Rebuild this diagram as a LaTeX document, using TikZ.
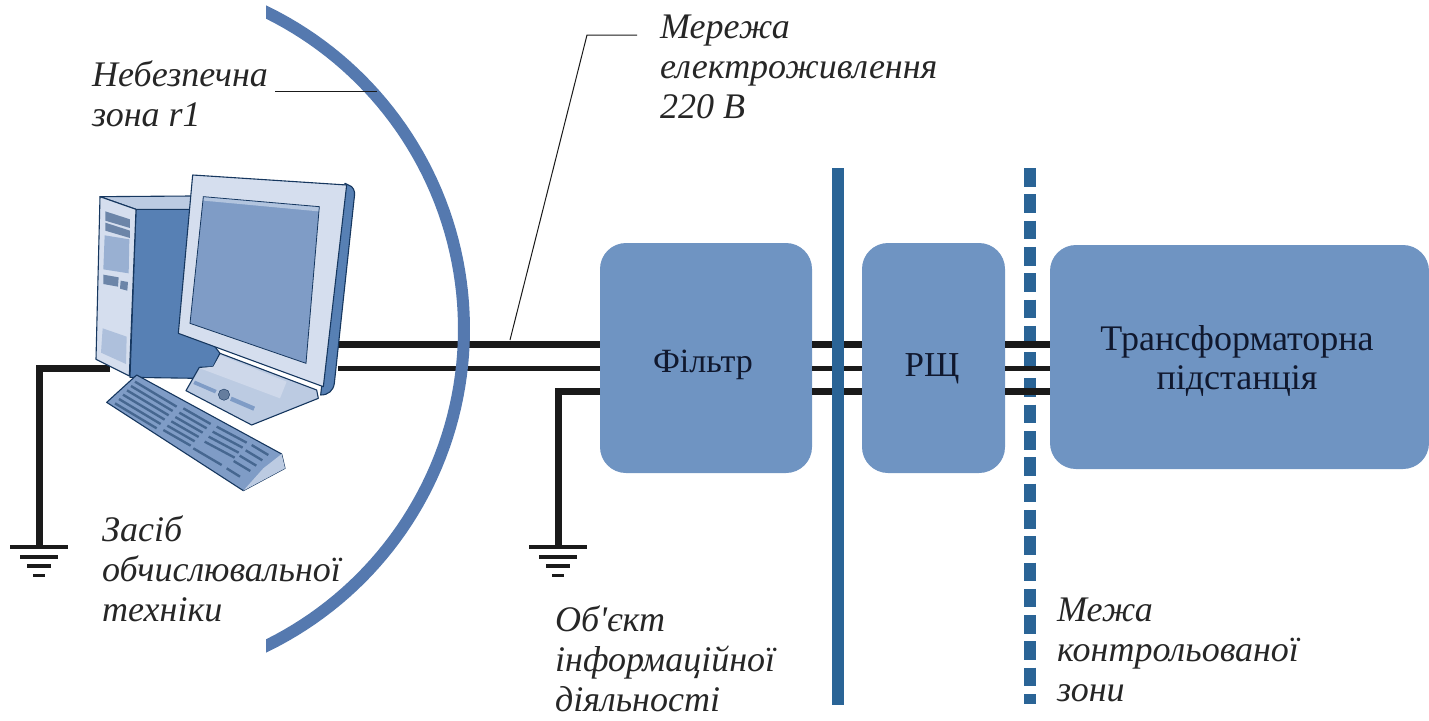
\documentclass[tikz,border=0pt]{standalone}
\usepackage{fontspec}
\setmainfont{Liberation Serif}[Ligatures=TeXOff]
\usetikzlibrary{calc}
\definecolor{boxblue}{HTML}{6F94C2}
\definecolor{arcblue}{HTML}{5579AF}
\definecolor{barblue}{HTML}{2A6496}
\definecolor{wirek}{HTML}{1A1A1A}
\definecolor{lbl}{HTML}{10182E}
\definecolor{pcdark}{HTML}{5780B4}
\definecolor{pcmid}{HTML}{7F9CC6}
\definecolor{pclight}{HTML}{D5DEEE}
\definecolor{pcpale}{HTML}{BCCBE2}
\definecolor{pcline}{HTML}{16375F}
\tikzset{
  blockbox/.style={fill=boxblue,rounded corners=26pt,inner sep=0pt},
  wirethick/.style={draw=wirek,line width=7pt},
  wirethin/.style={draw=wirek,line width=5pt},
  gndbar/.style={draw=wirek,line width=3.5pt},
  leader/.style={draw=wirek,line width=1pt},
  barline/.style={draw=barblue,line width=11.5pt},
  caption/.style={font=\fontsize{36}{40}\selectfont\itshape,text=black!85,align=left,anchor=north west,inner sep=0pt},
  pc/.style={draw=pcline,line width=1.1pt,line join=round},
  blocktext/.style={text=lbl,inner sep=0pt,align=center},
}
\begin{document}
\begin{tikzpicture}[x=1pt,y=-1pt]
\useasboundingbox (0,0) rectangle (1429,720);
% blocks
\node[blockbox,minimum width=212pt,minimum height=230pt] (filter) at (706,358) {};
\node[blockbox,minimum width=143pt,minimum height=230pt] (rsh) at (933.5,358) {};
\node[blockbox,minimum width=379pt,minimum height=224pt] (trans) at (1239.5,357) {};
\node[blocktext,font=\fontsize{34}{36}\selectfont] (filtert) at (703,365) {Фільтр};
\node[blocktext,font=\fontsize{35}{36}\selectfont] (rsht) at (932,369) {РЩ};
\node[blocktext,font=\fontsize{36}{39}\selectfont] (transt) at (1237,361) {Трансформаторна\\підстанція};
% anchors of wires
\coordinate (pc1) at (338,344);
\coordinate (pc2) at (338,368);
\coordinate (tw) at (110,368);
\coordinate (gl) at (39,546);
\coordinate (gr) at (558,546);
\coordinate (f3) at (600,391);
\coordinate (b1t) at (838,168);
\coordinate (b1b) at (838,705);
\coordinate (b2t) at (1030,168);
\coordinate (b2b) at (1030,704);
% wires
\draw[wirethick] (pc1) -- (filter.west |- pc1);
\draw[wirethin] (pc2) -- (filter.west |- pc2);
\draw[wirethick,line join=miter] (f3) -| (gr);
\draw[wirethick,line join=miter] (tw) -| (gl);
\foreach \yy/\st in {344/wirethick,368/wirethin,391/wirethick}{
  \draw[\st] (filter.east |- 0,\yy) -- (rsh.west |- 0,\yy);
}
% dangerous-zone arc, over the wires, its ends cut upright
\begin{scope}
  \clip (266,0) rectangle (500,720);
  \draw[draw=arcblue,line width=12pt] plot[domain=-67:67,samples=80] ({111.2+352.8*cos(\x)},{329+352.8*sin(\x)});
\end{scope}
% solid boundary drawn over the wires
\draw[barline] (b1t) -- (b1b);
% dashed boundary under the wires
\draw[barline,dash pattern=on 18.6pt off 7.7pt] (b2t) -- (b2b);
\foreach \yy/\st in {344/wirethick,368/wirethin,391/wirethick}{
  \draw[\st] (rsh.east |- 0,\yy) -- (trans.west |- 0,\yy);
}
% grounds
\foreach \g in {gl,gr}{
  \draw[gndbar,line width=4pt] ($(\g)+(-29,1)$) -- ($(\g)+(29,1)$);
  \draw[gndbar] ($(\g)+(-19,11)$) -- ($(\g)+(19,11)$);
  \draw[gndbar] ($(\g)+(-12,20)$) -- ($(\g)+(12,20)$);
  \draw[gndbar,line width=3pt] ($(\g)+(-6,29)$) -- ($(\g)+(6,29)$);
}
% computer (coordinates: 3x zoom of the region starting at 0,150)
\begin{scope}[shift={(0,150)},x=0.33333pt,y=-0.33333pt]
  % tower
  \filldraw[pc,fill=pcdark] (408,178) -- (575,178) -- (575,500) -- (660,610) -- (640,650) -- (590,685) -- (390,682) -- cycle;
  \filldraw[pc,fill=pcpale] (300,140) -- (575,138) -- (572,178) -- (408,178) -- cycle;
  \filldraw[pc,fill=pclight] (300,140) -- (408,178) -- (388,678) -- (288,628) -- cycle;
  \foreach \a/\b/\c/\d in {316/390/186/232,316/390/220/262}{
    \fill[pcmid!85!black] (\a,\c-2) -- (\b,\c+22) -- (\b,\d+2) -- (\a,\d-20) -- cycle;
  }
  \fill[pcmid!70!pclight] (314,256) -- (388,268) -- (386,370) -- (310,358) -- cycle;
  \fill[pcmid!85!black] (310,374) -- (356,382) -- (354,410) -- (310,402) -- cycle;
  \fill[pcmid!85!black] (362,392) -- (384,396) -- (382,422) -- (360,416) -- cycle;
  \fill[pcmid!45!pclight] (308,535) -- (380,560) -- (378,642) -- (303,608) -- cycle;
  % monitor stand
  \filldraw[pc,fill=pcpale] (660,610) -- (950,720) -- (955,745) -- (755,825) -- (558,722) -- (598,652) -- (640,650) -- cycle;
  \fill[pclight!70!pcpale] (660,615) -- (860,695) -- (840,745) -- (600,655) -- (640,650) -- cycle;
  \fill[pcmid] (585,692) -- (650,720) -- (645,730) -- (580,702) -- cycle;
  \fill[pcmid] (695,740) -- (765,770) -- (760,782) -- (690,752) -- cycle;
  \filldraw[pcmid!80!black,draw=pcline] (672,734) circle[radius=17];
  % monitor
  \filldraw[pc,fill=pcdark] (1035,100) -- (1055,110) .. controls (1065,120) and (1065,130) .. (1062,150) -- (1003,700) .. controls (1000,722) and (985,735) .. (962,735) -- cycle;
  \filldraw[pc,fill=pclight] (578,75) -- (1040,105) -- (970,710) -- (535,550) -- cycle;
  \filldraw[draw=pcline,line width=0.8pt,fill=pcmid] (610,140) -- (958,170) -- (918,640) -- (570,520) -- cycle;
  \fill[pclight!60!pcmid] (612,142) -- (956,172) -- (955,184) -- (612,152) -- cycle;
  % keyboard
  \filldraw[pc,fill=pcmid] (410,675) -- (845,912) -- (855,955) -- (730,1022) -- (320,757) -- cycle;
  \fill[pcpale] (845,912) -- (855,955) -- (730,1022) -- (790,955) -- cycle;
  \foreach \i in {0,1,2,3,4,5}{
    \draw[pcdark!80!black,line width=2.4pt] ($(405,695)+(-12*\i,13*\i)$) -- ($(530,770)+(-12*\i,13*\i)$);
    \draw[pcdark!80!black,line width=2.4pt] ($(550,775)+(-12*\i,13*\i)$) -- ($(632,822)+(-12*\i,13*\i)$);
  }
  \foreach \i in {0,1,2,3}{
    \draw[pcdark!80!black,line width=2.4pt] ($(650,830)+(-12*\i,15*\i)$) -- ($(740,878)+(-12*\i,15*\i)$);
    \draw[pcdark!80!black,line width=2.4pt] ($(755,885)+(-18*\i,16*\i)$) -- ($(805,915)+(-18*\i,16*\i)$);
  }
  \draw[pcdark!80!black,line width=2.4pt] (580,895) -- (665,945);
  \draw[pcdark!80!black,line width=2.4pt] (680,955) -- (720,980);
\end{scope}
% leaders
\coordinate (l1a) at (275,91);
\coordinate (l1b) at (377,91);
\coordinate (l2a) at (510,340);
\coordinate (l2b) at (587,35);
\coordinate (l2c) at (637,35);
\draw[leader] (l1a) -- (l1b);
\draw[leader] (l2a) -- (l2b) -- (l2c);
% captions
\node[caption] (c1) at (92,61) {Небезпечна\\зона r1};
\node[caption] (c2) at (660,15) {Мережа\\електроживлення\\220 В};
\node[caption] (c3) at (102,516) {Засіб\\обчислювальної\\техніки};
\node[caption] (c4) at (555,606) {Об'єкт\\інформаційної\\діяльності};
\node[caption] (c5) at (1057,598) {Межа\\контрольованої\\зони};
\end{tikzpicture}
\end{document}
